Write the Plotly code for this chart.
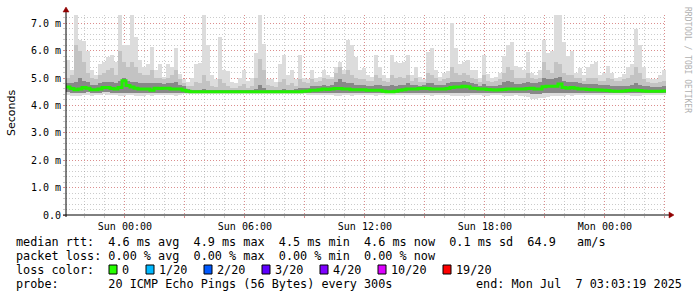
import plotly.graph_objects as go
import pandas as pd

# ---- data (12-minute bins, 30 hours ending Mon Jul 7 03:03:19 2025) ----
start = pd.Timestamp("2025-07-05 21:03:19")
end = pd.Timestamp("2025-07-07 03:03:19")

med = [4.67, 4.62, 4.57, 4.6, 4.65, 4.63, 4.57, 4.57, 4.6, 4.65,
       4.65, 4.62, 4.6, 4.65, 4.9, 4.73, 4.67, 4.63, 4.6, 4.6,
       4.6, 4.55, 4.63, 4.62, 4.63, 4.63, 4.6, 4.6, 4.6, 4.55,
       4.52, 4.5, 4.5, 4.5, 4.5, 4.5, 4.5, 4.5, 4.5, 4.5,
       4.5, 4.5, 4.5, 4.5, 4.5, 4.5, 4.5, 4.5, 4.5, 4.5,
       4.5, 4.5, 4.5, 4.5, 4.5, 4.5, 4.5, 4.5, 4.5, 4.52,
       4.53, 4.55, 4.55, 4.57, 4.6, 4.58, 4.6, 4.62, 4.62, 4.6,
       4.6, 4.57, 4.57, 4.57, 4.57, 4.55, 4.55, 4.55, 4.55, 4.52,
       4.5, 4.5, 4.52, 4.55, 4.57, 4.6, 4.6, 4.6, 4.62, 4.63,
       4.62, 4.6, 4.6, 4.6, 4.6, 4.62, 4.65, 4.67, 4.67, 4.7,
       4.68, 4.63, 4.62, 4.6, 4.6, 4.58, 4.57, 4.56, 4.57, 4.58,
       4.6, 4.6, 4.6, 4.6, 4.6, 4.62, 4.63, 4.6, 4.6, 4.68,
       4.7, 4.7, 4.7, 4.78, 4.65, 4.63, 4.65, 4.63, 4.6, 4.6,
       4.58, 4.57, 4.57, 4.56, 4.55, 4.54, 4.53, 4.52, 4.52, 4.53,
       4.54, 4.55, 4.55, 4.54, 4.53, 4.52, 4.52, 4.52, 4.52, 4.53]

hi1 = [5.65, 5.3, 7.3, 6.4, 6.35, 6.0, 5.3, 5.1, 5.5, 5.6,
       5.75, 5.85, 5.6, 7.3, 6.2, 6.2, 7.3, 6.5, 5.65, 5.4,
       5.5, 6.15, 5.3, 5.5, 5.05, 5.5, 5.4, 6.1, 5.15, 4.95,
       4.85, 5.0, 5.5, 5.55, 7.3, 6.2, 5.1, 4.95, 6.5, 5.3,
       5.25, 4.85, 4.8, 5.0, 5.3, 4.9, 5.0, 5.9, 7.3, 6.25,
       4.95, 4.95, 4.85, 5.5, 5.85, 5.1, 5.3, 4.95, 5.85, 5.0,
       4.95, 5.3, 5.0, 5.05, 5.3, 5.1, 5.05, 5.4, 5.6, 5.3,
       6.4, 6.2, 5.75, 5.3, 5.35, 5.1, 5.05, 5.85, 5.4, 5.1,
       5.0, 5.85, 5.6, 5.55, 5.6, 5.85, 5.1, 5.4, 5.05, 4.95,
       5.95, 6.1, 5.3, 5.05, 5.2, 5.25, 7.0, 6.1, 5.5, 5.6,
       5.65, 5.3, 5.3, 5.0, 5.85, 5.15, 5.0, 5.05, 5.2, 5.8,
       6.2, 6.3, 5.45, 5.4, 5.3, 5.95, 5.2, 5.1, 5.3, 6.4,
       5.9, 6.0, 7.3, 7.3, 6.3, 5.8, 6.0, 5.2, 5.35, 5.1,
       5.4, 5.5, 5.6, 5.1, 5.2, 5.45, 5.2, 5.0, 5.05, 5.15,
       5.4, 5.5, 6.8, 6.2, 5.4, 5.0, 4.95, 4.95, 5.1, 5.3]

hi2 = [5.0, 5.1, 6.2, 6.0, 5.6, 5.2, 5.0, 4.95, 5.1, 5.2,
       5.3, 5.35, 5.1, 6.0, 5.6, 5.4, 5.6, 5.4, 5.2, 5.1,
       5.1, 5.3, 5.0, 5.0, 4.95, 5.0, 5.1, 5.3, 4.95, 4.8,
       4.7, 4.7, 4.85, 4.8, 5.1, 4.9, 4.7, 4.68, 4.95, 4.8,
       4.72, 4.65, 4.65, 4.7, 4.78, 4.65, 4.7, 5.0, 5.7, 5.3,
       4.75, 4.7, 4.68, 4.85, 4.95, 4.75, 4.8, 4.72, 4.95, 4.85,
       4.8, 4.95, 4.85, 4.9, 5.0, 4.95, 4.95, 5.2, 5.4, 5.15,
       5.3, 5.1, 5.0, 4.95, 4.95, 4.9, 4.9, 5.1, 5.0, 4.9,
       4.85, 5.1, 5.0, 5.05, 5.0, 5.1, 4.9, 5.0, 4.85, 4.85,
       5.2, 5.1, 5.0, 4.9, 4.95, 5.0, 5.4, 5.2, 5.1, 5.2,
       5.1, 5.0, 4.95, 4.85, 5.1, 4.9, 4.85, 4.9, 4.95, 5.2,
       5.4, 5.3, 5.0, 5.0, 5.0, 5.2, 5.0, 4.95, 5.0, 5.6,
       5.3, 5.2, 5.6, 5.5, 5.2, 5.1, 5.1, 5.0, 5.0, 4.9,
       5.0, 5.0, 5.0, 4.9, 4.9, 5.0, 4.95, 4.9, 4.9, 4.95,
       5.0, 5.1, 5.4, 5.2, 4.95, 4.85, 4.82, 4.82, 4.85, 4.9]

hi3 = [4.8, 4.8, 4.85, 5.0, 4.9, 4.85, 4.75, 4.75, 4.8, 4.85,
       4.85, 4.85, 4.8, 4.9, 5.0, 4.9, 4.85, 4.85, 4.8, 4.8,
       4.8, 4.8, 4.8, 4.8, 4.78, 4.8, 4.8, 4.85, 4.75, 4.7,
       4.6, 4.57, 4.57, 4.56, 4.6, 4.57, 4.56, 4.56, 4.58, 4.57,
       4.56, 4.55, 4.55, 4.56, 4.56, 4.55, 4.56, 4.6, 4.75, 4.65,
       4.57, 4.55, 4.56, 4.58, 4.6, 4.57, 4.58, 4.6, 4.62, 4.65,
       4.65, 4.7, 4.7, 4.7, 4.75, 4.72, 4.75, 4.85, 4.95, 4.85,
       4.8, 4.8, 4.75, 4.75, 4.75, 4.72, 4.72, 4.75, 4.75, 4.7,
       4.7, 4.75, 4.72, 4.75, 4.75, 4.8, 4.75, 4.75, 4.72, 4.75,
       4.8, 4.8, 4.75, 4.75, 4.75, 4.8, 4.85, 4.85, 4.85, 4.9,
       4.85, 4.8, 4.78, 4.72, 4.78, 4.72, 4.72, 4.72, 4.75, 4.85,
       4.9, 4.85, 4.78, 4.78, 4.8, 4.85, 4.8, 4.8, 4.85, 5.0,
       4.95, 4.95, 5.0, 5.05, 4.9, 4.85, 4.85, 4.85, 4.82, 4.78,
       4.78, 4.78, 4.78, 4.75, 4.75, 4.75, 4.72, 4.7, 4.7, 4.7,
       4.72, 4.75, 4.8, 4.75, 4.72, 4.7, 4.68, 4.68, 4.68, 4.7]

lo2 = [4.48, 4.47, 4.45, 4.45, 4.47, 4.48, 4.46, 4.46, 4.47, 4.48,
       4.48, 4.47, 4.47, 4.46, 4.46, 4.47, 4.47, 4.45, 4.45, 4.46,
       4.47, 4.45, 4.47, 4.47, 4.47, 4.47, 4.47, 4.46, 4.47, 4.47,
       4.47, 4.47, 4.47, 4.46, 4.47, 4.47, 4.47, 4.47, 4.46, 4.47,
       4.47, 4.47, 4.47, 4.47, 4.47, 4.47, 4.47, 4.47, 4.46, 4.46,
       4.47, 4.47, 4.47, 4.47, 4.46, 4.47, 4.47, 4.47, 4.46, 4.47,
       4.47, 4.47, 4.46, 4.46, 4.47, 4.46, 4.47, 4.46, 4.46, 4.46,
       4.46, 4.46, 4.46, 4.46, 4.47, 4.46, 4.46, 4.46, 4.46, 4.46,
       4.45, 4.45, 4.46, 4.46, 4.46, 4.47, 4.47, 4.47, 4.47, 4.47,
       4.47, 4.46, 4.47, 4.47, 4.47, 4.47, 4.46, 4.46, 4.46, 4.46,
       4.46, 4.46, 4.46, 4.46, 4.45, 4.45, 4.46, 4.46, 4.46, 4.46,
       4.46, 4.46, 4.46, 4.46, 4.45, 4.44, 4.42, 4.42, 4.43, 4.44,
       4.45, 4.46, 4.46, 4.46, 4.46, 4.46, 4.46, 4.46, 4.46, 4.46,
       4.46, 4.46, 4.46, 4.45, 4.45, 4.45, 4.45, 4.44, 4.44, 4.44,
       4.44, 4.44, 4.44, 4.44, 4.44, 4.44, 4.44, 4.44, 4.44, 4.45]

lo1 = [4.38, 4.36, 4.33, 4.35, 4.37, 4.38, 4.36, 4.37, 4.38, 4.40,
       4.38, 4.37, 4.38, 4.36, 4.35, 4.37, 4.38, 4.33, 4.33, 4.34,
       4.37, 4.35, 4.38, 4.37, 4.38, 4.37, 4.38, 4.36, 4.38, 4.40,
       4.42, 4.43, 4.43, 4.42, 4.43, 4.42, 4.43, 4.43, 4.42, 4.43,
       4.43, 4.43, 4.42, 4.43, 4.43, 4.42, 4.43, 4.43, 4.42, 4.42,
       4.43, 4.43, 4.43, 4.42, 4.42, 4.43, 4.42, 4.43, 4.41, 4.40,
       4.39, 4.38, 4.38, 4.37, 4.38, 4.37, 4.38, 4.36, 4.35, 4.37,
       4.37, 4.36, 4.38, 4.37, 4.38, 4.38, 4.37, 4.36, 4.37, 4.38,
       4.38, 4.37, 4.38, 4.37, 4.38, 4.37, 4.38, 4.38, 4.37, 4.38,
       4.37, 4.36, 4.38, 4.37, 4.38, 4.37, 4.36, 4.35, 4.36, 4.35,
       4.36, 4.37, 4.38, 4.37, 4.35, 4.36, 4.37, 4.38, 4.37, 4.36,
       4.35, 4.36, 4.37, 4.36, 4.34, 4.30, 4.25, 4.24, 4.26, 4.28,
       4.30, 4.33, 4.35, 4.34, 4.36, 4.37, 4.36, 4.37, 4.38, 4.37,
       4.38, 4.37, 4.38, 4.37, 4.38, 4.38, 4.37, 4.38, 4.38, 4.37,
       4.37, 4.36, 4.35, 4.36, 4.37, 4.38, 4.38, 4.38, 4.37, 4.38]

y_ticks = [0, 1, 2, 3, 4, 5, 6, 7]
y_labels = ["0.0", "1.0 m", "2.0 m", "3.0 m", "4.0 m", "5.0 m", "6.0 m", "7.0 m"]

loss_labels = ["0", "1/20", "2/20", "3/20", "4/20", "10/20", "19/20"]
loss_colors = ["#26ff00", "#00b8ff", "#0059ff", "#5e00ff", "#7e00ff", "#dd00ff", "#ff0000"]

stats_line1 = "median rtt:  4.6 ms avg  4.9 ms max  4.5 ms min  4.6 ms now  0.1 ms sd  64.9   am/s"
stats_line2 = "packet loss: 0.00 % avg  0.00 % max  0.00 % min  0.00 % now"
probe_line = "probe:       20 ICMP Echo Pings (56 Bytes) every 300s"
end_line = "end: Mon Jul  7 03:03:19 2025"

# ---- build ----
n = len(med)
for arr in (hi1, hi2, hi3, lo1, lo2):
    assert len(arr) == n
bins = pd.date_range(start, periods=n, freq="12min")
centers = bins + pd.Timedelta(minutes=6)
w = 12 * 60 * 1000

fig = go.Figure()
bands = [(lo1, hi1, "#dcdcdc"), (lo2, hi2, "#c3c3c3"), (lo2, hi3, "#888888")]
for lo, hi, col in bands:
    fig.add_trace(go.Bar(x=centers, y=[h - l for h, l in zip(hi, lo)], base=lo,
                         width=w, marker=dict(color=col, line=dict(width=0)),
                         hoverinfo="skip"))
fig.add_trace(go.Scatter(x=list(bins) + [end], y=med + [med[-1]], mode="lines",
                         line=dict(color="#22f000", width=3, shape="hv"),
                         hoverinfo="skip"))

L, T, PW, PH = 66, 15, 600, 200
def px(x):
    return (x - L) / PW
def py(y):
    return (T + PH - y) / PH

major_x = pd.date_range("2025-07-06 00:00", "2025-07-07 03:00", freq="3h")
major_txt = [d.strftime("%a %H:%M") if d.hour % 6 == 0 else "" for d in major_x]

red = "rgba(235,80,80,0.5)"
grey = "rgba(140,140,140,0.45)"
mono = "DejaVu Sans Mono"

fig.update_layout(
    width=697, height=297,
    margin=dict(l=L, r=697 - L - PW, t=T, b=297 - T - PH),
    paper_bgcolor="white", plot_bgcolor="white",
    showlegend=False, barmode="overlay", bargap=0,
    xaxis=dict(type="date", range=[start, end], tickvals=list(major_x), ticktext=major_txt,
               showgrid=True, gridcolor=red, griddash="1px,2px", gridwidth=1,
               ticks="outside", ticklen=2, tickcolor=red,
               tickfont=dict(family=mono, size=10, color="black"),
               minor=dict(dtick=3600000, tick0="2025-07-05 21:00:00", showgrid=True,
                          gridcolor=grey, griddash="1px,2px", ticks="outside",
                          ticklen=2, tickcolor=grey),
               showline=False, zeroline=False, fixedrange=True),
    yaxis=dict(range=[0, 7.3], tickvals=y_ticks, ticktext=y_labels,
               showgrid=True, gridcolor=red, griddash="1px,2px",
               ticks="outside", ticklen=2, tickcolor=red,
               tickfont=dict(family=mono, size=10, color="black"),
               minor=dict(dtick=0.2, tick0=0, showgrid=True, gridcolor=grey,
                          griddash="1px,2px", ticks="outside", ticklen=2, tickcolor=grey),
               showline=False, zeroline=False, fixedrange=True),
)

shapes = []
# axis lines
shapes.append(dict(type="line", xref="paper", yref="paper", x0=px(66), x1=px(66),
                   y0=py(217), y1=py(10), line=dict(color="black", width=1)))
shapes.append(dict(type="line", xref="paper", yref="paper", x0=px(63), x1=px(670),
                   y0=py(215), y1=py(215), line=dict(color="black", width=1)))
# arrows
shapes.append(dict(type="path", xref="paper", yref="paper",
                   path=f"M {px(63)} {py(12)} L {px(69)} {py(12)} L {px(66)} {py(7)} Z",
                   fillcolor="#900000", line=dict(color="#900000", width=0.5)))
shapes.append(dict(type="path", xref="paper", yref="paper",
                   path=f"M {px(669)} {py(212)} L {px(669)} {py(218)} L {px(674)} {py(215)} Z",
                   fillcolor="#900000", line=dict(color="#900000", width=0.5)))

box_left = [109, 146, 204, 262, 320, 378, 443]
text_left = [121.5, 158.5, 216.5, 274.5, 332.5, 390.5, 455.5]
for bx, col in zip(box_left, loss_colors):
    shapes.append(dict(type="rect", xref="paper", yref="paper",
                       x0=px(bx), x1=px(bx + 8), y0=py(274), y1=py(265),
                       fillcolor=col, line=dict(color="black", width=1)))
fig.update_layout(shapes=shapes)

NB = "\u00a0"
def nb(s):
    return s.replace(" ", NB)

ann = []
def add_text(x, y, s, anchor="left", size=11.8, family=mono, color="black", angle=0):
    ann.append(dict(x=px(x), y=py(y), xref="paper", yref="paper", text=nb(s),
                    showarrow=False, xanchor=anchor, yanchor="middle",
                    borderpad=0, borderwidth=0, textangle=angle,
                    font=dict(family=family, size=size, color=color)))

add_text(16, 241.5, stats_line1)
add_text(16, 255.5, stats_line2)
add_text(16, 269.5, "loss color:")
for tx, lab in zip(text_left, loss_labels):
    add_text(tx, 269.5, lab)
add_text(16, 283.5, probe_line)
add_text(682, 283.5, end_line, anchor="right")

ann.append(dict(x=px(11), y=py(113), xref="paper", yref="paper", text="Seconds",
                showarrow=False, xanchor="center", yanchor="middle", textangle=-90,
                font=dict(family="DejaVu Sans", size=11, color="black")))
ann.append(dict(x=px(687), y=py(60), xref="paper", yref="paper",
                text=nb("RRDTOOL / TOBI OETIKER"), showarrow=False,
                xanchor="center", yanchor="middle", textangle=90,
                font=dict(family=mono, size=8, color="#b0b0b0")))
fig.update_layout(annotations=ann)

fig.write_html("out.html")
